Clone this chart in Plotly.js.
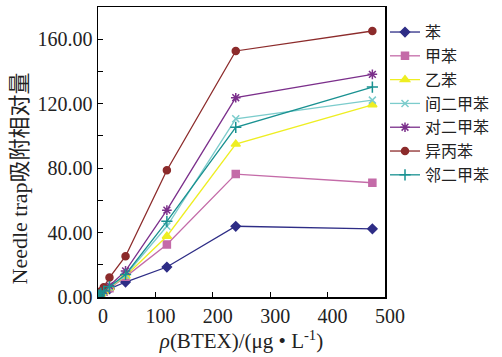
<!DOCTYPE html>
<html>
<head>
<meta charset="utf-8">
<script src="https://cdn.plot.ly/plotly-3.0.1.min.js"></script>
<style>html,body{margin:0;padding:0;background:#fff;}#chart{width:502px;height:357px;}</style>
</head>
<body>
<div id="chart"></div>
<script>
// concentrations, μg/L
const conc = [1, 2, 5, 10, 20, 48, 120, 240, 478];
const seriesNames = ['苯', '甲苯', '乙苯', '间二甲苯', '对二甲苯', '异丙苯', '邻二甲苯'];
const benzene   = [0.5, 1.0, 2.0, 3.0, 5.0, 9.3, 18.6, 43.9, 42.3];
const toluene   = [0.5, 1.0, 2.0, 3.2, 5.5, 12.5, 32.6, 76.3, 70.9];
const ethylbenz = [0.5, 1.0, 2.0, 3.3, 5.8, 13.0, 37.7, 94.9, 119.3];
const mXylene   = [0.6, 1.2, 2.2, 3.5, 6.2, 13.5, 43.9, 110.6, 122.2];
const pXylene   = [0.7, 1.4, 2.6, 4.0, 7.0, 16.2, 53.9, 123.7, 138.2];
const cumene    = [1.0, 2.0, 3.6, 6.0, 12.1, 25.3, 78.7, 152.7, 165.1];
const oXylene   = [0.6, 1.3, 2.4, 3.7, 6.5, 14.0, 47.0, 105.3, 130.3];
const yTickVals = [0, 40, 80, 120, 160];
const xTickVals = [0, 100, 200, 300, 400, 500];
const yTitle = 'Needle trap吸附相对量';
const xTitle = '<i>ρ</i>(BTEX)/(μg • L<sup>-1</sup>)';

const allY = [benzene, toluene, ethylbenz, mXylene, pXylene, cumene, oXylene];
const colors = ['#2e2d86', '#c46ba8', '#eeee22', '#7ccccc', '#7b2f8b', '#8c2b2b', '#199191'];
const symbols = ['diamond', 'square', 'triangle-up', 'x-thin-open', 'asterisk-open', 'circle', 'cross-thin-open'];
const sizes = [7, 7, 8, 7, 8, 7, 8];

const traces = allY.map((ys, i) => ({
  x: conc, y: ys, name: seriesNames[i], type: 'scatter', mode: 'lines+markers',
  line: {color: colors[i], width: 1.3},
  marker: {symbol: symbols[i], size: sizes[i], color: colors[i], line: {color: colors[i], width: 1.5}}
}));

const serif = '"Liberation Serif", "Noto Sans CJK SC", serif';
const layout = {
  width: 502, height: 357,
  margin: {l: 98, r: 112, t: 7, b: 60},
  paper_bgcolor: '#fff', plot_bgcolor: '#fff',
  showlegend: true,
  legend: {x: 1.0, xanchor: 'left', y: 0.972, yanchor: 'top', font: {family: '"Noto Sans CJK SC", sans-serif', size: 16, color: '#222'}, itemwidth: 30, bgcolor: 'rgba(0,0,0,0)', tracegroupgap: 0},
  xaxis: {
    range: [0, 500], tickvals: xTickVals, ticks: 'inside', ticklen: 5, tickcolor: '#000',
    ticklabelshift: 5,
    showline: true, linecolor: '#000', linewidth: 1.5, mirror: true, showgrid: false, zeroline: false,
    tickfont: {family: serif, size: 20, color: '#222'},
    title: {text: xTitle, font: {family: serif, size: 21, color: '#222'}, standoff: 8}
  },
  yaxis: {
    range: [0, 180], tickvals: yTickVals, tickformat: '.2f', ticks: 'inside', ticklen: 5, tickcolor: '#000',
    minor: {dtick: 20, tick0: 0, ticks: 'inside', ticklen: 5, tickcolor: '#000', showgrid: false},
    showline: true, linecolor: '#000', linewidth: 1.5, mirror: true, showgrid: false, zeroline: false,
    tickfont: {family: serif, size: 20, color: '#222'}
  },
  annotations: [{
    text: yTitle, xref: 'paper', yref: 'paper', x: -0.274, y: 0.41,
    xanchor: 'center', yanchor: 'middle', textangle: -90, showarrow: false,
    font: {family: serif, size: 22, color: '#222'}
  }]
};
Plotly.newPlot('chart', traces, layout, {displayModeBar: false, staticPlot: true});
</script>
</body>
</html>
